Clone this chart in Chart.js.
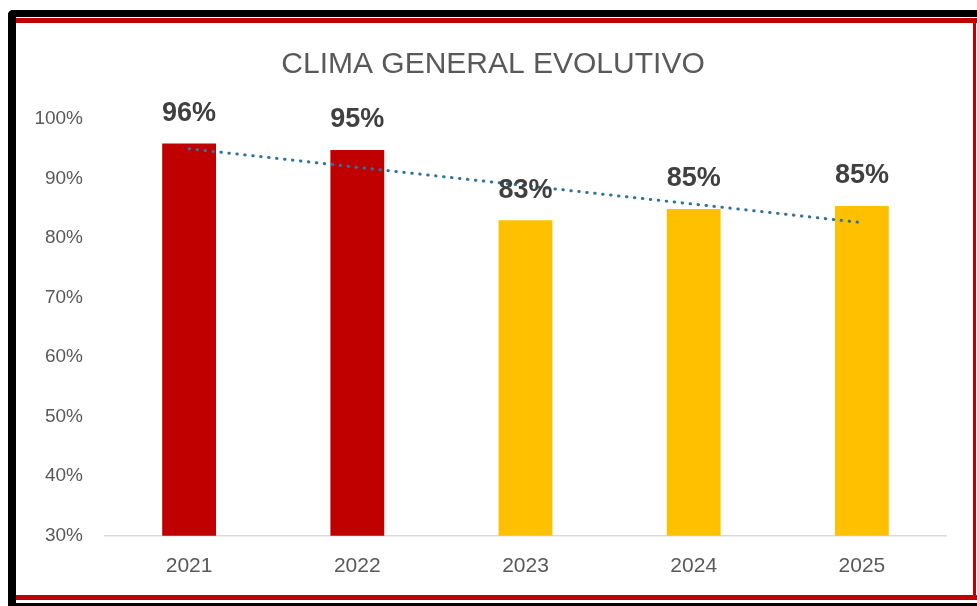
<!DOCTYPE html>
<html>
<head>
<meta charset="utf-8">
<script src="https://cdn.jsdelivr.net/npm/chart.js@4.4.1/dist/chart.umd.min.js"></script>
<style>
  html, body { margin: 0; padding: 0; background: #fff; }
  #wrap { position: relative; width: 977px; height: 606px; overflow: hidden; }
  #chart { position: absolute; left: 0; top: 0; }
  .edge { position: absolute; }
</style>
</head>
<body>
<div id="wrap">
  <canvas id="chart" width="977" height="606"></canvas>
  <!-- frame: black outer, red inner -->
  <div class="edge" style="left:8px;top:10px;width:969px;height:7px;background:#000;border-top-left-radius:5px;"></div>
  <div class="edge" style="left:8px;top:10px;width:8px;height:596px;background:#000;border-top-left-radius:5px;"></div>
  <div class="edge" style="left:8px;top:603px;width:969px;height:3px;background:#000;"></div>
  <div class="edge" style="left:16px;top:18px;width:961px;height:5px;background:#c00000;"></div>
  <div class="edge" style="left:16px;top:595px;width:961px;height:5px;background:#c00000;"></div>
  <div class="edge" style="left:973px;top:18px;width:3px;height:582px;background:#c00000;"></div>
</div>
<script>
// ---------- Data ----------
const chartTitle = "CLIMA GENERAL EVOLUTIVO";
const years = ["2021", "2022", "2023", "2024", "2025"];
const climaValues = [95.9, 94.8, 83.0, 84.9, 85.4];
const valueLabels = ["96%", "95%", "83%", "85%", "85%"];
const barColors = ["#c00000", "#c00000", "#ffc000", "#ffc000", "#ffc000"];
// trendline ends; middle points left empty, line spans the gap
const trendValues = [95.0, null, null, null, 82.6];
const yTicks = [30, 40, 50, 60, 70, 80, 90, 100];

const FONT = "'Liberation Sans', Arial, sans-serif";
const GREY = "#595959";

// ---------- Title + value labels (drawn on the canvas) ----------
const textLayer = {
  id: "textLayer",
  afterDatasetsDraw(chart) {
    const ctx = chart.ctx;
    ctx.save();
    ctx.textAlign = "center";
    ctx.textBaseline = "middle";

    // title is centred over the whole frame, not the chart box
    ctx.font = "30px " + FONT;
    ctx.fillStyle = GREY;
    ctx.fillText(chartTitle, 493, 65);

    ctx.font = "bold 27px " + FONT;
    ctx.fillStyle = "#404040";
    chart.getDatasetMeta(0).data.forEach((bar, i) => {
      ctx.fillText(valueLabels[i], bar.x, bar.y - 30);
    });
    ctx.restore();
  }
};

const ctx = document.getElementById("chart").getContext("2d");
new Chart(ctx, {
  type: "bar",
  data: {
    labels: years,
    datasets: [
      {
        type: "bar",
        data: climaValues,
        backgroundColor: barColors,
        barPercentage: 0.32,
        categoryPercentage: 1,
        order: 2,
      },
      {
        type: "line",
        data: trendValues,
        borderColor: "#31739c",
        borderWidth: 3,
        borderDash: [0.5, 7.5],
        borderCapStyle: "round",
        pointRadius: 0,
        spanGaps: true,
        fill: false,
        order: 1,
      },
    ],
  },
  options: {
    responsive: false,
    animation: false,
    layout: { padding: { left: 0, right: 31, top: 119, bottom: 9 } },
    plugins: {
      legend: { display: false },
      tooltip: { enabled: false },
      title: { display: false },
    },
    scales: {
      x: {
        grid: { display: false, drawTicks: false },
        border: { display: true, color: "#d9d9d9", width: 1.5 },
        ticks: { color: GREY, font: { family: FONT, size: 21 }, padding: 18 },
      },
      y: {
        min: 30,
        max: 100,
        afterFit(scale) { scale.width = 105; },
        afterBuildTicks(scale) { scale.ticks = yTicks.map(v => ({ value: v })); },
        grid: { display: false, drawTicks: false },
        border: { display: false },
        ticks: {
          color: GREY,
          font: { family: FONT, size: 19 },
          padding: 22,
          callback: v => v + "%",
        },
      },
    },
  },
  plugins: [textLayer],
});
</script>
</body>
</html>
